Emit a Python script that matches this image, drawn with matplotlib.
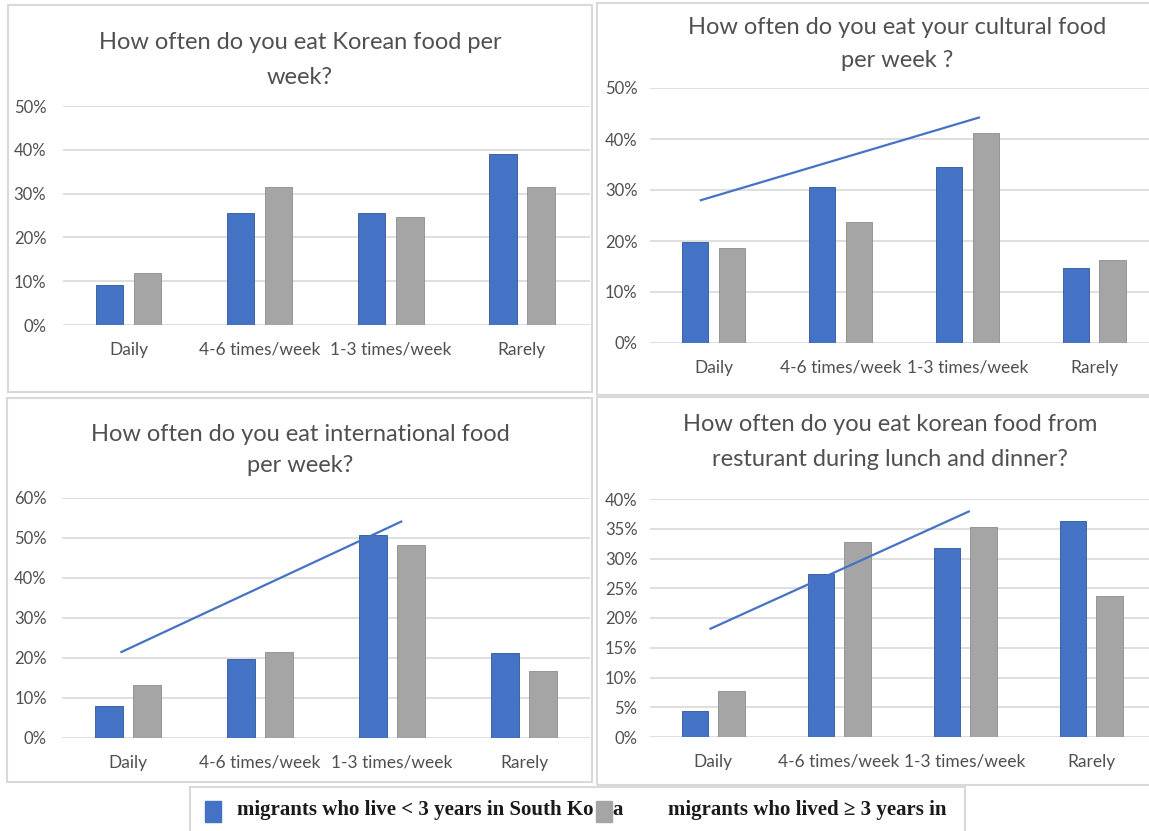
import matplotlib
matplotlib.use("Agg")

import matplotlib.pyplot as plt
import matplotlib.patches as mpatches
from matplotlib.ticker import PercentFormatter, MultipleLocator

# ── data (percent) ──────────────────────────────────────────
categories = ["Daily", "4-6 times/week", "1-3 times/week", "Rarely"]

titles = [
    "How often do you eat Korean food per\nweek?",
    "How often do you eat your cultural food\nper week ?",
    "How often do you eat international food\nper week?",
    "How often do you eat korean food from\nresturant during lunch and dinner?",
]

korean_lt3 = [9.1, 25.6, 25.6, 39.0]
korean_ge3 = [11.8, 31.4, 24.6, 31.4]

cultural_lt3 = [19.8, 30.6, 34.6, 14.8]
cultural_ge3 = [18.6, 23.7, 41.1, 16.3]

intl_lt3 = [7.9, 19.7, 50.7, 21.2]
intl_ge3 = [13.3, 21.6, 48.2, 16.8]

resto_lt3 = [4.4, 27.4, 31.7, 36.3]
resto_ge3 = [7.7, 32.7, 35.3, 23.7]

# hand-drawn trend lines (start / end, category units and percent)
cultural_trend_x = [-0.1, 2.09]
cultural_trend_y = [28.0, 44.2]
intl_trend_x = [-0.05, 2.07]
intl_trend_y = [21.5, 54.1]
resto_trend_x = [-0.02, 2.03]
resto_trend_y = [18.2, 37.9]

legend_lt3 = "migrants who live < 3 years in South Ko"
legend_lt3_tail = "a"
legend_ge3 = "migrants who lived \u2265 3 years in"

BLUE = "#4472C4"
GRAY = "#A5A5A5"
GRID = "#D9D9D9"
TXT = "#505050"
FONT = ["Lato", "DejaVu Sans"]
SERIF = ["Liberation Serif", "DejaVu Serif"]

W, H = 1149, 831
fig = plt.figure(figsize=(W / 100, H / 100), dpi=100)
fig.patch.set_facecolor("white")


def px_axes(x0, x1, ytop, ybot):
    return fig.add_axes([x0 / W, 1 - ybot / H, (x1 - x0) / W, (ybot - ytop) / H])


def frame(x0, y0, x1, y1):
    fig.add_artist(mpatches.Rectangle((x0 / W, 1 - y1 / H), (x1 - x0) / W, (y1 - y0) / H,
                                      transform=fig.transFigure, fill=False,
                                      edgecolor=GRID, linewidth=1.5))


panels = [
    # values, trend, ymax, step, axes px (x0, x1, ytop, ybot), xlim right, title xy, linespacing, ypad, frame
    (korean_lt3, korean_ge3, None, 50, 10, (63, 590, 106, 325), 3.52, (300, 60), 1.85, 13,
     (8, 5, 592, 392)),
    (cultural_lt3, cultural_ge3, (cultural_trend_x, cultural_trend_y), 50, 10,
     (650, 1149, 88, 343), 3.43, (897, 44), 1.65, 10, (597, 3, 1152, 395)),
    (intl_lt3, intl_ge3, (intl_trend_x, intl_trend_y), 60, 10,
     (62, 590, 498, 738), 3.5, (300, 450), 1.6, 12, (7, 398, 592, 782)),
    (resto_lt3, resto_ge3, (resto_trend_x, resto_trend_y), 40, 5,
     (650, 1149, 499, 737), 3.46, (890, 442), 1.8, 10, (597, 397, 1152, 785)),
]

x = list(range(len(categories)))
bw = 0.21
off = 0.145

for i, (lt3, ge3, trend, ymax, step, box, xr, txy, ls, ypad, fr) in enumerate(panels):
    frame(*fr)
    ax = px_axes(*box)
    ax.bar([v - off for v in x], lt3, width=bw, color=BLUE, edgecolor="#2F5597",
           linewidth=0.6, zorder=3)
    ax.bar([v + off for v in x], ge3, width=bw, color=GRAY, edgecolor="#8C8C8C",
           linewidth=0.6, zorder=3)
    if trend is not None:
        ax.plot(trend[0], trend[1], color=BLUE, linewidth=1.6, zorder=4)
    ax.set_xlim(-0.5, xr)
    ax.set_ylim(0, ymax)
    ax.yaxis.set_major_locator(MultipleLocator(step))
    ax.yaxis.set_major_formatter(PercentFormatter(xmax=100, decimals=0))
    ax.grid(axis="y", color=GRID, linewidth=1.2, zorder=0)
    ax.set_axisbelow(True)
    for s in ax.spines.values():
        s.set_visible(False)
    ax.set_xticks(x)
    ax.set_xticklabels(categories)
    ax.tick_params(axis="y", length=0, pad=ypad - 1, labelsize=12, labelcolor=TXT)
    ax.tick_params(axis="x", length=0, pad=12, labelsize=12.5, labelcolor=TXT)
    for lab in ax.get_xticklabels() + ax.get_yticklabels():
        lab.set_family(FONT)
    fig.text(txy[0] / W, 1 - txy[1] / H, titles[i], ha="center", va="center",
             fontsize=17, color=TXT, family=FONT, linespacing=ls)

# ── legend strip ────────────────────────────────────────────
frame(190, 787, 965, 833)
ly = 810
fig.add_artist(mpatches.Rectangle((205 / W, 1 - 822 / H), 16 / W, 21 / H,
                                  transform=fig.transFigure, color=BLUE))
t1 = fig.text(237 / W, 1 - ly / H, legend_lt3, ha="left", va="center", fontsize=15,
              family=SERIF, fontweight="bold", color="#1a1a1a")
fig.canvas.draw()
bb = t1.get_window_extent()
sq_x = bb.x1 + 2
fig.add_artist(mpatches.Rectangle((sq_x / W, 1 - 822 / H), 16 / W, 21 / H,
                                  transform=fig.transFigure, color=GRAY))
fig.text((sq_x + 17) / W, 1 - ly / H, legend_lt3_tail, ha="left", va="center", fontsize=15,
         family=SERIF, fontweight="bold", color="#1a1a1a")
fig.text(668 / W, 1 - ly / H, legend_ge3, ha="left", va="center", fontsize=15,
         family=SERIF, fontweight="bold", color="#1a1a1a")

plt.savefig("out.png", dpi=100)
plt.close()
